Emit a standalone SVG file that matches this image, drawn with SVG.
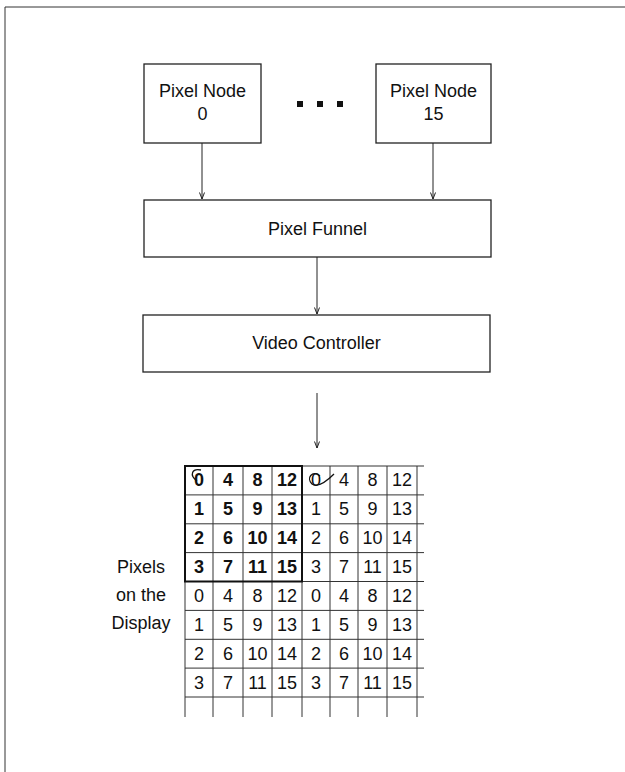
<svg xmlns="http://www.w3.org/2000/svg" width="625" height="772" viewBox="0 0 625 772">
<defs>
<marker id="ah" markerWidth="8" markerHeight="8" refX="7" refY="4" orient="auto" markerUnits="userSpaceOnUse" viewBox="0 0 8 8">
<path d="M0.5,1.5 L7,4 L0.5,6.5" fill="none" stroke="#222" stroke-width="1"/>
</marker>
</defs>
<style>
.box{fill:#fff;stroke:#222;stroke-width:1.3}
.t{font-family:"Liberation Sans",Arial,sans-serif;font-size:18px;fill:#111;text-anchor:middle}
.n{font-family:"Liberation Sans",Arial,sans-serif;font-size:18px;fill:#111;text-anchor:middle}
.b{font-weight:bold}
.c{stroke:#222;stroke-width:1;fill:none}
.g{stroke:#333;stroke-width:1;fill:none}
.gb{stroke:#111;stroke-width:2;fill:none}
</style>
<rect width="625" height="772" fill="#fff"/>
<g id="frame"><path d="M5,772 L5,7 L625,7" class="g" stroke-width="1.5"/></g>
<g id="node0"><rect class="box" x="144" y="64" width="117" height="79"/><text class="t" x="202.5" y="97">Pixel Node</text><text class="t" x="202.5" y="120">0</text></g>
<g id="ellipsis" fill="#111"><rect x="297" y="101" width="6" height="6"/><rect x="317" y="101" width="6" height="6"/><rect x="337" y="101" width="6" height="6"/></g>
<g id="node15"><rect class="box" x="376" y="64" width="115" height="79"/><text class="t" x="433.5" y="97">Pixel Node</text><text class="t" x="433.5" y="120">15</text></g>
<g id="funnel"><rect class="box" x="144" y="200" width="347" height="57"/><text class="t" x="317.5" y="235">Pixel Funnel</text></g>
<g id="video"><rect class="box" x="143" y="315" width="347" height="57"/><text class="t" x="316.5" y="349">Video Controller</text></g>
<g id="connectors">
<line class="c" x1="202" y1="143" x2="202" y2="199" marker-end="url(#ah)"/>
<line class="c" x1="433" y1="143" x2="433" y2="199" marker-end="url(#ah)"/>
<line class="c" x1="317" y1="257" x2="317" y2="314" marker-end="url(#ah)"/>
<line class="c" x1="317" y1="393" x2="317" y2="448" marker-end="url(#ah)"/>
</g>
<g id="display">
<text class="t" x="141" y="573">Pixels</text>
<text class="t" x="141" y="601">on the</text>
<text class="t" x="141" y="629">Display</text>
<g id="gridlines">
<path class="g" d="M185,466 H424 M185,494.9 H424 M185,523.8 H424 M185,552.6 H424 M185,581.5 H424 M185,610.4 H424 M185,639.3 H424 M185,668.1 H424 M185,697 H424"/>
<path class="g" d="M185,466 V717 M213,466 V717 M243,466 V717 M272,466 V717 M302,466 V717 M330,466 V717 M358,466 V717 M387,466 V717 M417,466 V717"/>
<path class="gb" d="M185,466 H302 V581.5 H185 Z"/>
</g>
<g class="n b">
<text x="199" y="486">0</text><text x="228" y="486">4</text><text x="257.5" y="486">8</text><text x="287" y="486">12</text>
<text x="199" y="515">1</text><text x="228" y="515">5</text><text x="257.5" y="515">9</text><text x="287" y="515">13</text>
<text x="199" y="544">2</text><text x="228" y="544">6</text><text x="257.5" y="544">10</text><text x="287" y="544">14</text>
<text x="199" y="573">3</text><text x="228" y="573">7</text><text x="257.5" y="573">11</text><text x="287" y="573">15</text>
</g>
<g class="n">
<text x="316" y="486">0</text><text x="344" y="486">4</text><text x="372.5" y="486">8</text><text x="402" y="486">12</text>
<text x="316" y="515">1</text><text x="344" y="515">5</text><text x="372.5" y="515">9</text><text x="402" y="515">13</text>
<text x="316" y="544">2</text><text x="344" y="544">6</text><text x="372.5" y="544">10</text><text x="402" y="544">14</text>
<text x="316" y="573">3</text><text x="344" y="573">7</text><text x="372.5" y="573">11</text><text x="402" y="573">15</text>
<text x="199" y="602">0</text><text x="228" y="602">4</text><text x="257.5" y="602">8</text><text x="287" y="602">12</text><text x="316" y="602">0</text><text x="344" y="602">4</text><text x="372.5" y="602">8</text><text x="402" y="602">12</text>
<text x="199" y="631">1</text><text x="228" y="631">5</text><text x="257.5" y="631">9</text><text x="287" y="631">13</text><text x="316" y="631">1</text><text x="344" y="631">5</text><text x="372.5" y="631">9</text><text x="402" y="631">13</text>
<text x="199" y="660">2</text><text x="228" y="660">6</text><text x="257.5" y="660">10</text><text x="287" y="660">14</text><text x="316" y="660">2</text><text x="344" y="660">6</text><text x="372.5" y="660">10</text><text x="402" y="660">14</text>
<text x="199" y="689">3</text><text x="228" y="689">7</text><text x="257.5" y="689">11</text><text x="287" y="689">15</text><text x="316" y="689">3</text><text x="344" y="689">7</text><text x="372.5" y="689">11</text><text x="402" y="689">15</text>
</g>
<g id="marks" fill="none" stroke="#111" stroke-width="1.3">
<path d="M197,481 C189,475 192,468 201,470"/>
<path d="M320,476 C312,470 306,478 312,484 C318,488 326,482 334,474"/>
</g>
</g>
</svg>
